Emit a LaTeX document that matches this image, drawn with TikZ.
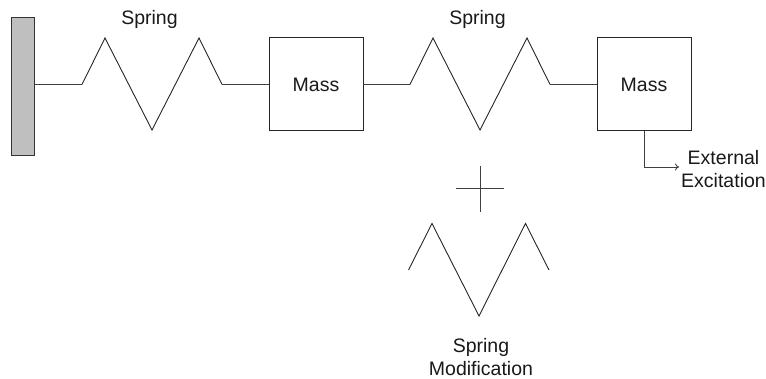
\documentclass[tikz,border=0pt]{standalone}
\usepackage{fontspec}
\setmainfont{Liberation Sans}
\usetikzlibrary{arrows.meta}
\tikzset{
  x=1pt,y=-1pt,
  massbox/.style={draw=black!85,line width=1pt,minimum width=94pt,minimum height=93pt,inner sep=0pt,outer sep=0pt,font=\fontsize{19.5}{23}\selectfont,text=black!90},
  wallbox/.style={draw=black!80,fill=black!25,line width=1pt,minimum width=23pt,minimum height=138.5pt,inner sep=0pt,outer sep=0pt},
  lbl/.style={inner sep=0pt,font=\fontsize{19.5}{23}\selectfont,align=center,text=black!90},
  wire/.style={draw=black!75,line width=1pt},
  zig/.style={draw=black!85,line width=0.9pt,line join=miter},
  exc/.style={draw=black!75,line width=0.9pt,-{To[length=4pt,width=7pt]}}
}
\begin{document}
\begin{tikzpicture}
\useasboundingbox (0,0) rectangle (766,379);
\node[wallbox] (wall) at (23,86.75) {};
\node[massbox] (m1) at (316,84.5) {Mass};
\node[massbox] (m2) at (644,84.5) {Mass};
\node[lbl] (s1) at (149.5,19) {Spring};
\node[lbl] (s2) at (477.5,19) {Spring};
\node[lbl] (ee) at (723.5,169) {External\\Excitation};
\node[lbl] (sm) at (481,357) {Spring\\Modification};
\coordinate (a1) at (82,84.5);
\coordinate (a2) at (222,84.5);
\coordinate (b1) at (410,84.5);
\coordinate (b2) at (550,84.5);
\coordinate (el) at (644,167);
\coordinate (et) at (679,167);
\coordinate (pl) at (456,189);
\coordinate (pr) at (504,189);
\coordinate (pt) at (480,166);
\coordinate (pb) at (480,212);
\draw[wire] (wall.east |- a1) -- (a1);
\draw[zig] (a1) -- (105,38) -- (152,130) -- (199,38) -- (a2);
\draw[wire] (a2) -- (m1.west |- a2);
\draw[wire] (m1.east |- b1) -- (b1);
\draw[zig] (b1) -- (433,38) -- (480,130) -- (527,38) -- (b2);
\draw[wire] (b2) -- (m2.west |- b2);
\draw[exc] (m2.south) -- (el) -- (et);
\draw[wire] (pl) -- (pr);
\draw[wire] (pt) -- (pb);
\draw[zig] (408.5,270) -- (432,223.5) -- (479,316) -- (525.5,223.5) -- (549,270);
\end{tikzpicture}
\end{document}
